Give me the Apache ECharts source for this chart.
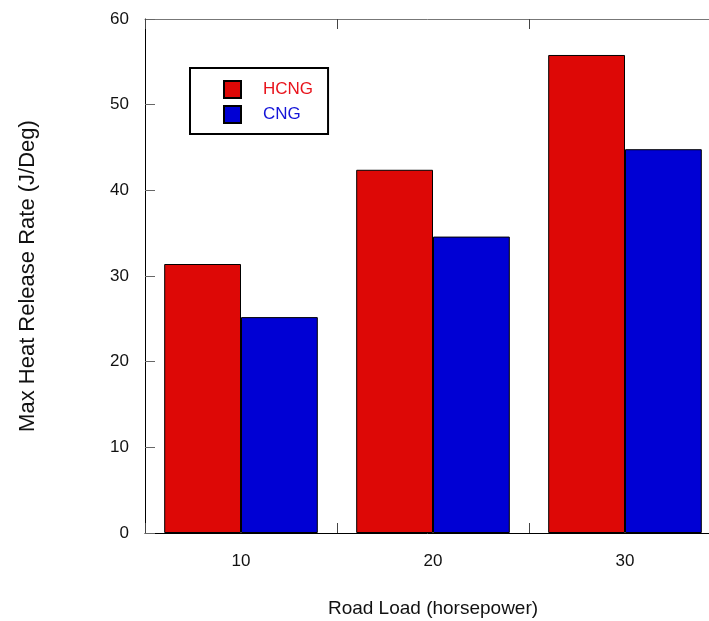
<!DOCTYPE html>
<html>
<head>
<meta charset="utf-8">
<script src="https://cdn.jsdelivr.net/npm/echarts@6/dist/echarts.min.js"></script>
<style>html,body{margin:0;padding:0;background:#fff}#c{width:709px;height:621px}</style>
</head>
<body>
<div id="c"></div>
<script>
const categories = ['10', '20', '30'];
const hcng = [31.4, 42.4, 55.8];
const cng = [25.2, 34.6, 44.8];
const yMin = 0, yMax = 60, yStep = 10;
const xTitle = 'Road Load (horsepower)';
const yTitle = 'Max Heat Release Rate (J/Deg)';

const font = 'Liberation Sans, Arial, Helvetica, sans-serif';
const chart = echarts.init(document.getElementById('c'), null, {renderer: 'canvas'});
chart.setOption({
  animation: false,
  backgroundColor: '#fff',
  textStyle: {fontFamily: font},
  grid: {left: 145, top: 19, width: 576, height: 514, containLabel: false, outerBoundsMode: 'none'},
  legend: {
    orient: 'vertical',
    left: 190, top: 68,
    padding: [12, 15, 10, 33],
    itemWidth: 17, itemHeight: 17, itemGap: 6,
    borderColor: '#000', borderWidth: 2,
    icon: 'rect',
    itemStyle: {borderColor: '#000', borderWidth: 2},
    textStyle: {fontSize: 17, lineHeight: 17, fontFamily: font, padding: [0, 0, 0, 17]},
    data: [
      {name: 'HCNG', textStyle: {color: '#E8141C'}},
      {name: 'CNG', textStyle: {color: '#1414D8'}}
    ]
  },
  xAxis: [{
    type: 'category', data: categories, position: 'bottom',
    axisLine: {lineStyle: {color: '#000', width: 1}},
    axisTick: {show: true, inside: true, length: 10, lineStyle: {color: '#444', width: 1}},
    axisLabel: {fontSize: 17, color: '#111', margin: 20, fontFamily: font},
    name: xTitle, nameLocation: 'middle', nameGap: 66,
    nameTextStyle: {fontSize: 19, color: '#111', fontFamily: font}
  }, {
    type: 'category', data: categories, position: 'top',
    axisLine: {lineStyle: {color: '#777', width: 1}},
    axisTick: {show: true, inside: true, length: 10, lineStyle: {color: '#444', width: 1}},
    axisLabel: {show: false}
  }],
  yAxis: [{
    type: 'value', min: yMin, max: yMax, interval: yStep,
    axisLine: {show: true, lineStyle: {color: '#000', width: 1}},
    axisTick: {show: true, inside: true, length: 10, lineStyle: {color: '#666'}},
    axisLabel: {fontSize: 17, color: '#111', margin: 16, fontFamily: font},
    splitLine: {show: false},
    name: yTitle, nameLocation: 'middle', nameGap: 106, nameRotate: 90,
    nameTextStyle: {fontSize: 22, color: '#111', fontFamily: font}
  }],
  series: [{
    name: 'HCNG', type: 'bar', data: hcng,
    barGap: '0%', barCategoryGap: '20%',
    itemStyle: {color: '#DD0806', borderColor: '#000', borderWidth: 1}
  }, {
    name: 'CNG', type: 'bar', data: cng,
    barGap: '0%', barCategoryGap: '20%',
    itemStyle: {color: '#0000D4', borderColor: '#000', borderWidth: 1}
  }]
});
</script>
</body>
</html>
